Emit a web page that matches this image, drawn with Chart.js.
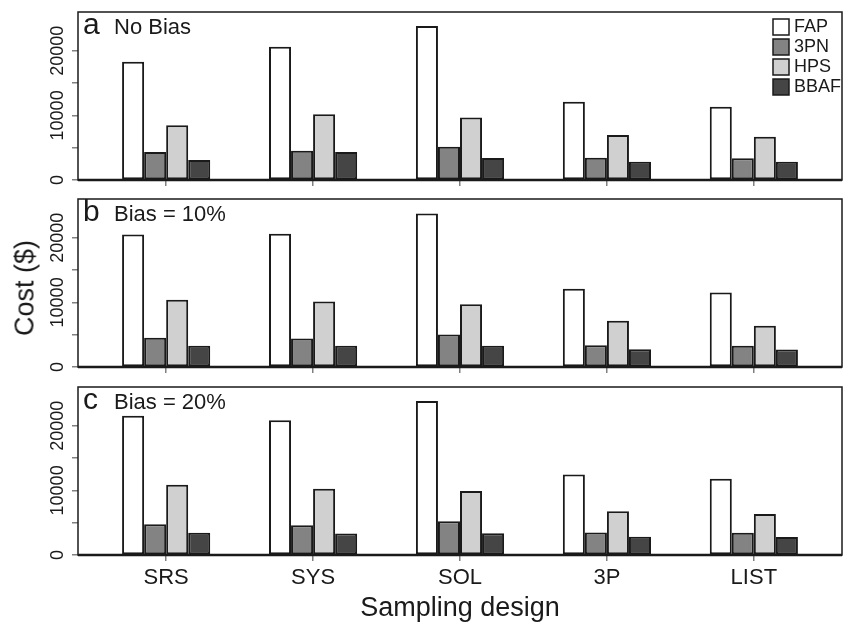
<!DOCTYPE html>
<html>
<head>
<meta charset="utf-8">
<script src="https://cdn.jsdelivr.net/npm/chart.js@4"></script>
<style>
  body { margin: 0; background: #fff; }
  #wrap { position: relative; width: 846px; height: 623px; font-family: "Liberation Sans", Arial, sans-serif; }
  .panel { position: absolute; left: 0; width: 846px; }
  #ylab { position: absolute; left: 25px; top: 288px; transform: translate(-50%, -50%) rotate(-90deg);
          font-size: 27px; color: #1a1a1a; white-space: nowrap; line-height: 1; }
</style>
</head>
<body>
<div id="wrap">
  <div class="panel" style="top:0;height:187px"><canvas id="pa" width="846" height="187"></canvas></div>
  <div class="panel" style="top:187px;height:187px"><canvas id="pb" width="846" height="187"></canvas></div>
  <div class="panel" style="top:374px;height:249px"><canvas id="pc" width="846" height="249"></canvas></div>
  <div id="ylab">Cost ($)</div>
</div>
<script>
const designs = ['SRS', 'SYS', 'SOL', '3P', 'LIST']
const methods = ['FAP', '3PN', 'HPS', 'BBAF']
const yTicks = [0, 5000, 10000, 15000, 20000]
const yLabels = ['0', '', '10000', '', '20000']

// a - no bias
const fapNoBias = [18300, 20620, 23820, 12110, 11340]
const tpnNoBias = [4330, 4530, 5150, 3450, 3350]
const hpsNoBias = [8460, 10160, 9690, 6960, 6700]
const bbafNoBias = [3090, 4330, 3400, 2830, 2830]
// b - bias 10%
const fapBias10 = [20510, 20620, 23740, 12100, 11530]
const tpnBias10 = [4520, 4420, 5040, 3380, 3270]
const hpsBias10 = [10390, 10120, 9720, 7160, 6390]
const bbafBias10 = [3270, 3270, 3270, 2750, 2710]
// c - bias 20%
const fapBias20 = [21540, 20870, 23850, 12460, 11800]
const tpnBias20 = [4770, 4620, 5230, 3490, 3430]
const hpsBias20 = [10870, 10260, 9900, 6770, 6360]
const bbafBias20 = [3430, 3330, 3380, 2820, 2770]

const fills = ['#ffffff', '#838383', '#cfd0cf', '#454545']
const ink = '#1a1a1a'

Chart.defaults.font.family = '"Liberation Sans", Arial, sans-serif'

// box, panel letter + caption, legend
const panelDeco = {
    id: 'panelDeco',
    afterDraw(chart, args, o) {
        const ctx = chart.ctx
        const a = chart.chartArea
        ctx.save()
        ctx.strokeStyle = ink
        ctx.lineWidth = 1.5
        ctx.strokeRect(a.left, a.top, a.right - a.left, a.bottom - a.top)
        // heavier baseline
        ctx.lineWidth = 2.6
        ctx.beginPath()
        ctx.moveTo(a.left, a.bottom)
        ctx.lineTo(a.right, a.bottom)
        ctx.stroke()

        ctx.fillStyle = ink
        ctx.textBaseline = 'alphabetic'
        ctx.font = '30px "Liberation Sans"'
        ctx.fillText(o.letter, a.left + 5, a.top + 22)
        ctx.font = '22px "Liberation Sans"'
        ctx.fillText(o.text, a.left + 36, a.top + 22)

        if (o.legend) {
            ctx.font = '18px "Liberation Sans"'
            ctx.textBaseline = 'middle'
            chart.data.datasets.forEach((ds, i) => {
                const x = a.right - 69, y = a.top + 7 + i * 20
                ctx.fillStyle = ds.backgroundColor
                ctx.fillRect(x, y, 16, 16)
                ctx.lineWidth = 1.5
                ctx.strokeStyle = ink
                ctx.strokeRect(x, y, 16, 16)
                ctx.fillStyle = ink
                ctx.fillText(ds.label, x + 21, y + 8.5)
            })
        }
        ctx.restore()
    }
}

function makePanel(id, letter, text, series, last, legend) {
    return new Chart(document.getElementById(id), {
        type: 'bar',
        data: {
            datasets: methods.map((m, k) => ({
                label: m,
                data: series[k].map((v, i) => ({ x: i, y: v })),
                backgroundColor: fills[k],
                borderColor: ink,
                borderWidth: 2,
                borderSkipped: false,
                inflateAmount: 0,
                categoryPercentage: 0.6,
                barPercentage: 1
            }))
        },
        options: {
            responsive: false,
            animation: false,
            devicePixelRatio: 1,
            layout: { padding: { top: last ? 13 : 12, right: 4, left: 0, bottom: 0 } },
            plugins: {
                legend: { display: false },
                tooltip: { enabled: false },
                panelDeco: { letter: letter, text: text, legend: legend }
            },
            scales: {
                x: {
                    type: 'linear',
                    min: -0.6,
                    max: 4.6,
                    offset: false,
                    afterBuildTicks: s => { s.ticks = designs.map((d, i) => ({ value: i })) },
                    afterFit: s => { s.height = last ? 68 : 7 },
                    grid: { offset: false, drawOnChartArea: false, drawTicks: true, tickLength: 6, color: '#808080', lineWidth: 1.5 },
                    border: { display: false },
                    ticks: {
                        display: last,
                        autoSkip: false,
                        maxRotation: 0,
                        padding: 4,
                        color: ink,
                        font: { size: 22 },
                        callback: v => designs[v]
                    },
                    title: {
                        display: last,
                        text: 'Sampling design',
                        color: ink,
                        font: { size: 27, lineHeight: 1 },
                        padding: { top: 0, bottom: 1 }
                    }
                },
                y: {
                    min: 0,
                    max: 26000,
                    afterBuildTicks: s => { s.ticks = yTicks.map(v => ({ value: v })) },
                    afterFit: s => { s.width = 78 },
                    grid: { drawOnChartArea: false, tickLength: 6, color: '#808080', lineWidth: 1.5 },
                    border: { display: false },
                    ticks: {
                        autoSkip: false,
                        minRotation: 90,
                        maxRotation: 90,
                        crossAlign: 'center',
                        padding: -11,
                        color: ink,
                        font: { size: 18 },
                        callback: v => yLabels[yTicks.indexOf(v)]
                    }
                }
            }
        },
        plugins: [panelDeco]
    })
}

makePanel('pa', 'a', 'No Bias', [fapNoBias, tpnNoBias, hpsNoBias, bbafNoBias], false, true)
makePanel('pb', 'b', 'Bias = 10%', [fapBias10, tpnBias10, hpsBias10, bbafBias10], false, false)
makePanel('pc', 'c', 'Bias = 20%', [fapBias20, tpnBias20, hpsBias20, bbafBias20], true, false)
</script>
</body>
</html>
